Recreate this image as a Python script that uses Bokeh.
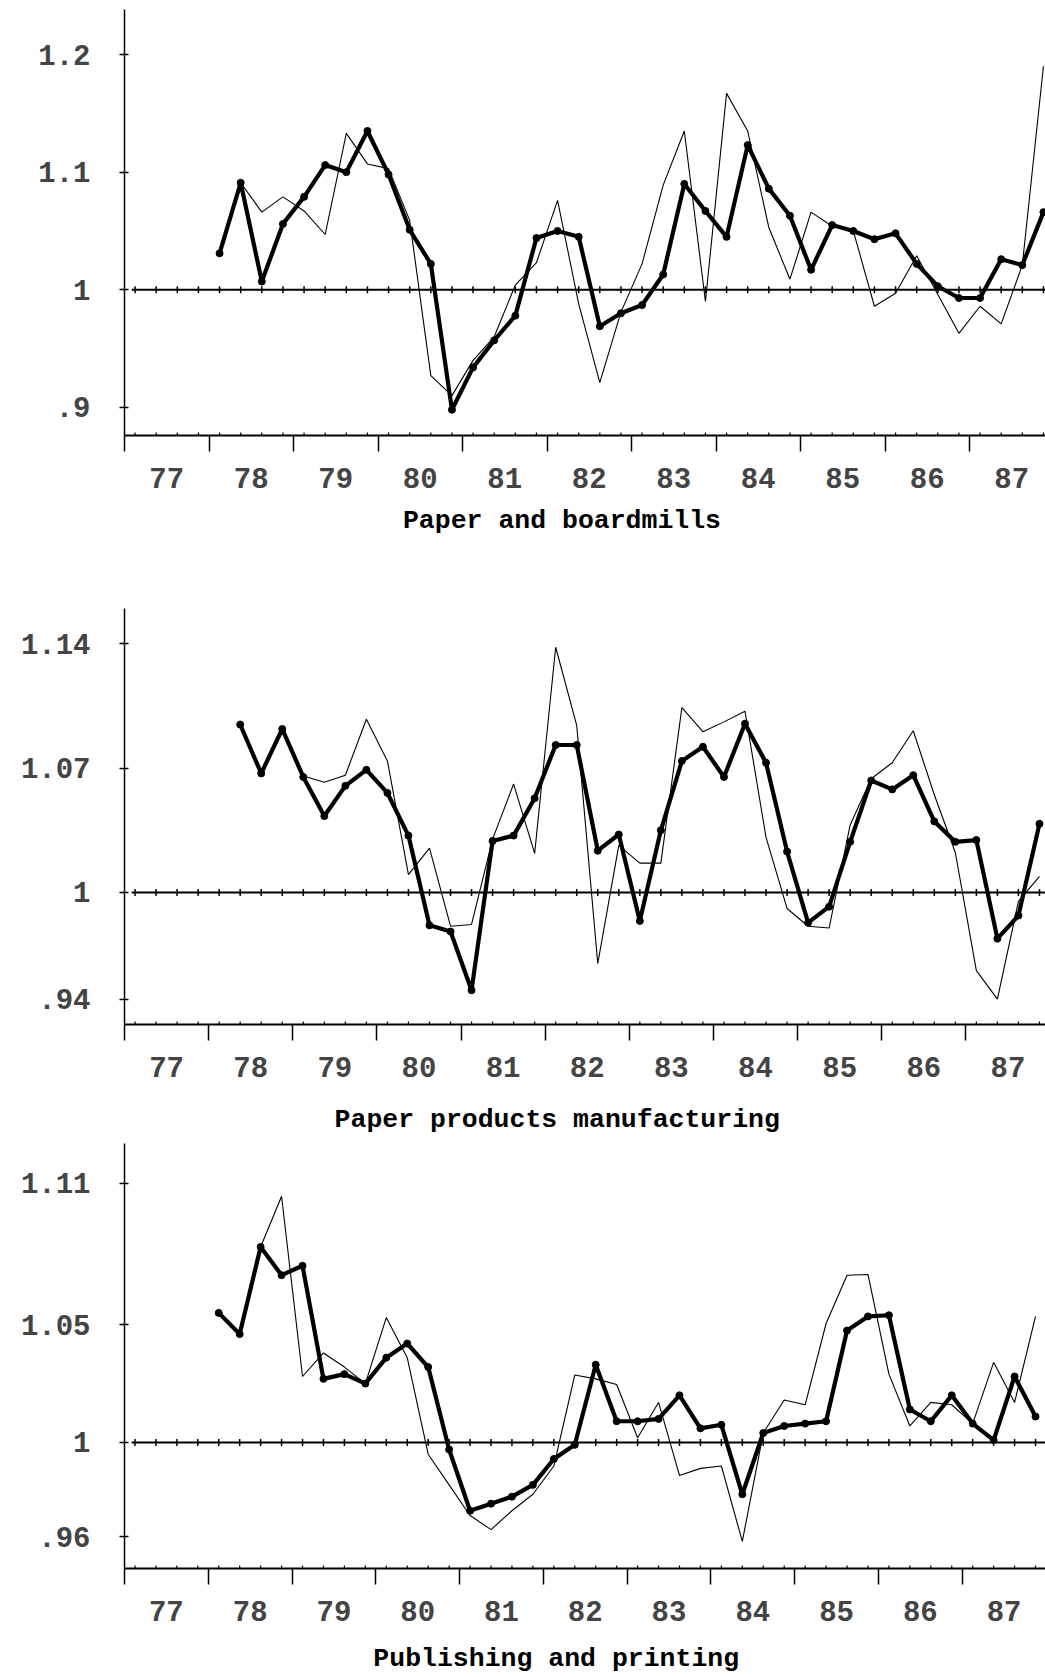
import math
from bokeh.plotting import figure
from bokeh.layouts import column
from bokeh.models import Range1d, FixedTicker, LinearAxis
from bokeh.embed import file_html
from bokeh.resources import INLINE

# ---------------- data ----------------
YEARS = list(range(1977, 1988))
YEAR_LABELS = ["77", "78", "79", "80", "81", "82", "83", "84", "85", "86", "87"]

# Paper and boardmills (quarterly, thick starts 1978Q1, thin starts 1978Q2)
p1_title = "Paper and boardmills"
p1_thick_start = (1978, 1)
p1_thick = [1.031, 1.091, 1.007, 1.056, 1.079, 1.106, 1.100, 1.135, 1.098, 1.051,
            1.022, 0.898, 0.934, 0.957, 0.978, 1.044, 1.050, 1.045, 0.969, 0.980,
            0.987, 1.013, 1.090, 1.067, 1.045, 1.123, 1.086, 1.063, 1.017, 1.055,
            1.050, 1.043, 1.048, 1.022, 1.003, 0.993, 0.993, 1.026, 1.021, 1.066]
p1_thin_start = (1978, 2)
p1_thin = [1.091, 1.066, 1.079, 1.067, 1.047, 1.133, 1.107, 1.103, 1.059, 0.927,
           0.910, 0.940, 0.960, 1.004, 1.023, 1.076, 0.988, 0.921, 0.981, 1.022,
           1.089, 1.135, 0.990, 1.167, 1.135, 1.053, 1.009, 1.066, 1.054, 1.050,
           0.986, 0.997, 1.029, 0.996, 0.963, 0.986, 0.971, 1.021, 1.190]
p1_yticks = [0.9, 1.0, 1.1, 1.2]
p1_ylabels = [".9", "1", "1.1", "1.2"]

# Paper products manufacturing (thick starts 1978Q2, thin starts 1979Q1)
p2_title = "Paper products manufacturing"
p2_thick_start = (1978, 2)
p2_thick = [1.0945, 1.067, 1.092, 1.065, 1.043, 1.060, 1.069, 1.056, 1.032, 0.9815,
            0.978, 0.945, 1.029, 1.032, 1.053, 1.083, 1.083, 1.0235, 1.0326, 0.984,
            1.035, 1.074, 1.082, 1.065, 1.095, 1.073, 1.023, 0.983, 0.992, 1.0285,
            1.063, 1.058, 1.066, 1.040, 1.0285, 1.0295, 0.974, 0.987, 1.0386]
p2_thin_start = (1979, 1)
p2_thin = [1.0655, 1.062, 1.066, 1.0975, 1.074, 1.010, 1.025, 0.981, 0.982, 1.030,
           1.061, 1.022, 1.138, 1.094, 0.960, 1.0265, 1.0165, 1.0165, 1.104, 1.0905,
           1.096, 1.102, 1.031, 0.991, 0.981, 0.980, 1.038, 1.064, 1.073, 1.091,
           1.055, 1.0225, 0.956, 0.940, 0.995, 1.009]
p2_yticks = [0.94, 1.0, 1.07, 1.14]
p2_ylabels = [".94", "1", "1.07", "1.14"]

# Publishing and printing (thick starts 1978Q1, thin starts 1978Q3)
p3_title = "Publishing and printing"
p3_thick_start = (1978, 1)
p3_thick = [1.055, 1.046, 1.083, 1.071, 1.075, 1.027, 1.029, 1.025, 1.036, 1.042,
            1.032, 0.997, 0.971, 0.974, 0.977, 0.982, 0.993, 0.999, 1.033, 1.009,
            1.009, 1.010, 1.020, 1.006, 1.0075, 0.978, 1.004, 1.007, 1.008, 1.009,
            1.0475, 1.0535, 1.054, 1.014, 1.009, 1.020, 1.008, 1.001, 1.028, 1.011]
p3_thin_start = (1978, 3)
p3_thin = [1.083, 1.1045, 1.028, 1.038, 1.032, 1.025, 1.053, 1.036, 0.995, 0.982,
           0.969, 0.963, 0.971, 0.978, 0.990, 1.0286, 1.027, 1.0246, 1.002, 1.017,
           0.986, 0.989, 0.990, 0.958, 1.004, 1.018, 1.016, 1.0505, 1.071, 1.0713,
           1.029, 1.007, 1.017, 1.016, 1.008, 1.034, 1.017, 1.0535]
p3_yticks = [0.96, 1.0, 1.05, 1.11]
p3_ylabels = [".96", "1", "1.05", "1.11"]

# ---------------- helpers ----------------
FONT = "Liberation Mono"
FIG_W = 1045
PX_PER_YEAR = 84.5


def quarter_x(start, n):
    y, q = start
    return [y + (q - 0.5) / 4 + i / 4 for i in range(n)]


QUARTERS = quarter_x((1977, 1), 44)
YEAR_MIDS = [y + 0.5 for y in YEARS]
X_START = 1977.0


def make_panel(title, thick_start, thick, thin_start, thin, yticks, ylabels,
               height, y_range, left, top, bottom, title_center_px, title_standoff):
    x_end = X_START + (FIG_W - left) / PX_PER_YEAR
    p = figure(width=FIG_W, height=height, output_backend="svg",
               toolbar_location=None, x_range=Range1d(X_START, x_end),
               y_range=Range1d(*y_range), min_border_left=left,
               min_border_right=0, min_border_top=top,
               min_border_bottom=bottom)
    p.grid.visible = False
    p.outline_line_color = None
    p.background_fill_color = "white"
    p.border_fill_color = "white"

    # zero reference line with quarter marks
    p.line([QUARTERS[0] - 0.04, x_end], [1.0, 1.0], line_color="black",
           line_width=2)
    p.scatter(QUARTERS, [1.0] * len(QUARTERS), marker="dash",
              angle=math.pi / 2, size=7, line_color="black", line_width=1.5)
    # quarter marks on the bottom axis
    p.scatter(QUARTERS, [y_range[0]] * len(QUARTERS), marker="dash",
              angle=math.pi / 2, size=6, line_color="black", line_width=1.2)

    tx = quarter_x(thin_start, len(thin))
    p.line(tx, thin, line_color="black", line_width=1.1)
    kx = quarter_x(thick_start, len(thick))
    p.line(kx, thick, line_color="black", line_width=4.2, line_join="round")
    p.scatter(kx, thick, marker="circle", size=7, fill_color="black",
              line_color="black")

    xa = p.xaxis[0]
    xa.ticker = FixedTicker(ticks=YEAR_MIDS, minor_ticks=YEARS)
    xa.major_label_overrides = {m: lab for m, lab in zip(YEAR_MIDS, YEAR_LABELS)}
    xa.major_tick_out = 16
    xa.major_tick_in = 0
    xa.major_tick_line_color = None
    xa.minor_tick_out = 16
    xa.minor_tick_in = 0
    xa.minor_tick_line_width = 1.5
    xa.axis_line_width = 2
    xa.major_label_text_font = FONT
    xa.major_label_text_font_size = "29px"
    xa.major_label_text_font_style = "bold"
    xa.major_label_standoff = 16

    # panel caption, drawn as the single label of a bare second axis
    cx = X_START + (title_center_px - left) / PX_PER_YEAR
    ta = LinearAxis(ticker=FixedTicker(ticks=[cx], minor_ticks=[]),
                    major_label_overrides={cx: title},
                    axis_line_color=None, major_tick_line_color=None,
                    minor_tick_line_color=None, major_tick_out=0,
                    major_tick_in=0, major_label_standoff=title_standoff,
                    major_label_text_font=FONT,
                    major_label_text_font_size="26.5px",
                    major_label_text_font_style="bold",
                    major_label_text_color="black")
    p.add_layout(ta, "below")

    ya = p.yaxis[0]
    ya.ticker = FixedTicker(ticks=yticks, minor_ticks=[])
    ya.major_label_overrides = {t: lab for t, lab in zip(yticks, ylabels)}
    ya.major_tick_in = 4
    ya.major_tick_out = 5
    ya.major_tick_line_width = 1.5
    ya.minor_tick_line_color = None
    ya.axis_line_width = 1.5
    ya.major_label_text_font = FONT
    ya.major_label_text_font_size = "29px"
    ya.major_label_text_font_style = "bold"
    ya.major_label_standoff = 29
    return p


p1 = make_panel(p1_title, p1_thick_start, p1_thick, p1_thin_start, p1_thin,
                p1_yticks, p1_ylabels, 548, (0.8761, 1.2383), 124, 9, 113,
                561.5, 15)
p2 = make_panel(p2_title, p2_thick_start, p2_thick, p2_thin_start, p2_thin,
                p2_yticks, p2_ylabels, 592, (0.9257, 1.1598), 120, 60, 116,
                554.6, 25)
p3 = make_panel(p3_title, p3_thick_start, p3_thick, p3_thin_start, p3_thin,
                p3_yticks, p3_ylabels, 537, (0.9465, 1.1269), 116, 3, 109,
                551.5, 20)

layout = column(p1, p2, p3, spacing=0)
open("out.html", "w").write(file_html(layout, INLINE))
